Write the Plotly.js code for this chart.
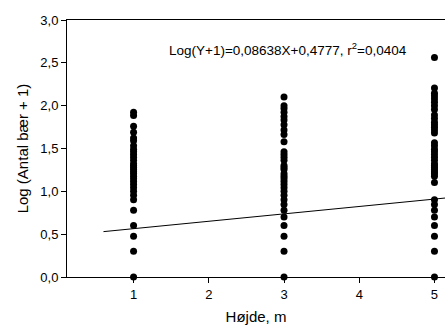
<!DOCTYPE html>
<html>
<head>
<meta charset="utf-8">
<script src="https://cdn.plot.ly/plotly-3.0.1.min.js"></script>
<style>html,body{margin:0;padding:0;background:#fff}#chart{width:445px;height:327px}</style>
</head>
<body>
<div id="chart"></div>
<script>
// Heights (m) and log(count+1) values
const heights = [1, 3, 5];
const yHeight1 = [0, 0.301, 0.477, 0.602, 0.778, 0.903, 0.954, 1.0, 1.041, 1.079, 1.114, 1.146, 1.176, 1.204, 1.230, 1.255, 1.279, 1.301, 1.322, 1.362, 1.398, 1.431, 1.462, 1.491, 1.531, 1.591, 1.623, 1.69, 1.76, 1.886, 1.924];
const yHeight3 = [0, 0.301, 0.477, 0.602, 0.699, 0.778, 0.845, 0.903, 0.954, 1.0, 1.041, 1.079, 1.114, 1.146, 1.176, 1.204, 1.255, 1.279, 1.301, 1.362, 1.398, 1.431, 1.462, 1.58, 1.663, 1.716, 1.778, 1.833, 1.875, 1.924, 1.968, 2.0, 2.1];
const yHeight5 = [0, 0.301, 0.477, 0.602, 0.699, 0.778, 0.845, 0.903, 1.102, 1.176, 1.204, 1.230, 1.255, 1.279, 1.301, 1.322, 1.362, 1.398, 1.431, 1.462, 1.491, 1.531, 1.568, 1.681, 1.716, 1.748, 1.778, 1.806, 1.851, 1.892, 1.954, 2.0, 2.041, 2.079, 2.114, 2.146, 2.207, 2.562];
// Regression: Log(Y+1) = slope*X + intercept
const slope = 0.08638;
const intercept = 0.4777;
const fitX = [0.6, 5.3];
const eqText = 'Log(Y+1)=0,08638X+0,4777, r<sup>2</sup>=0,0404';
const yTicks = [0, 0.5, 1, 1.5, 2, 2.5, 3];
const xTicks = [1, 2, 3, 4, 5];

const xs = [], ys = [];
[yHeight1, yHeight3, yHeight5].forEach((arr, i) => {
  arr.forEach(v => { xs.push(heights[i]); ys.push(v); });
});

const font = 'Arial, "Liberation Sans", sans-serif';
const traces = [
  {x: xs, y: ys, type: 'scatter', mode: 'markers',
   marker: {color: '#000', size: 7, symbol: 'circle'}, cliponaxis: false, hoverinfo: 'skip'},
  {x: fitX, y: fitX.map(v => slope * v + intercept), type: 'scatter', mode: 'lines',
   line: {color: '#000', width: 1}, hoverinfo: 'skip'}
];
const layout = {
  width: 445, height: 327,
  margin: {l: 66.7, r: 0, t: 20, b: 50},
  paper_bgcolor: '#fff', plot_bgcolor: '#fff',
  showlegend: false,
  separators: ', ',
  font: {family: font, size: 13, color: '#000'},
  xaxis: {range: [0.115, 5.14], tickvals: xTicks, ticktext: xTicks.map(String),
    ticks: 'outside', ticklen: 5, tickcolor: '#000', showgrid: false, zeroline: false,
    showline: true, linecolor: '#000', linewidth: 1, mirror: true,
    title: {text: 'Højde, m', font: {size: 15}, standoff: 10}},
  yaxis: {range: [0, 3], tickvals: yTicks, tickformat: '.1f',
    ticks: 'outside', ticklen: 5, tickcolor: '#000', showgrid: false, zeroline: false,
    showline: true, linecolor: '#000', linewidth: 1,
    title: {text: 'Log (Antal bær + 1)', font: {size: 15}, standoff: 8}},
  annotations: [{text: eqText, xref: 'paper', yref: 'paper', x: 0.264, y: 0.888,
    xanchor: 'left', yanchor: 'middle', showarrow: false, font: {size: 13.5}}]
};
Plotly.newPlot('chart', traces, layout, {staticPlot: true, displayModeBar: false});
</script>
</body>
</html>
